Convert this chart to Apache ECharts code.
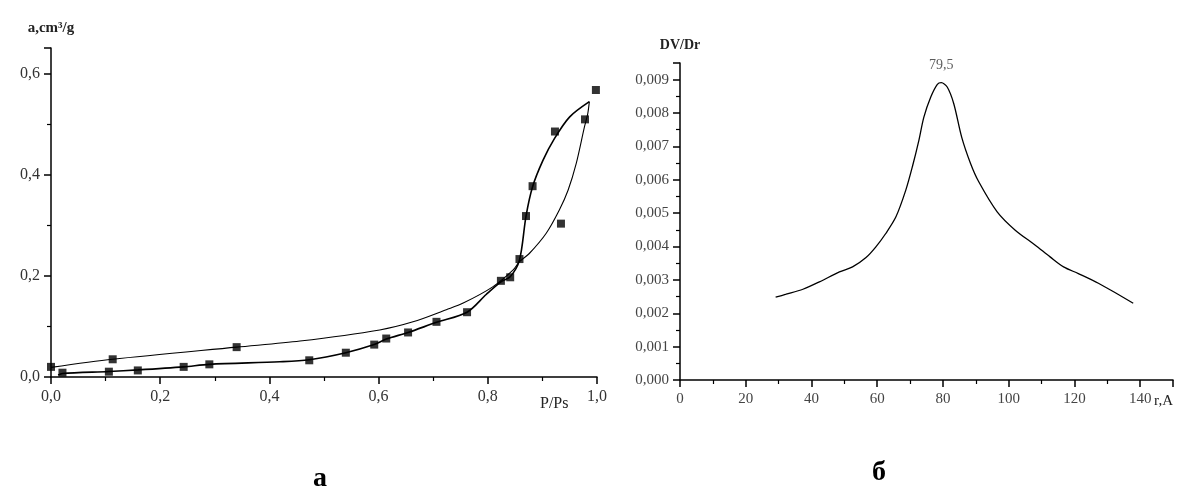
<!DOCTYPE html>
<html>
<head>
<meta charset="utf-8">
<script src="https://cdn.jsdelivr.net/npm/echarts@6/dist/echarts.min.js"></script>
<style>
  html, body { margin: 0; padding: 0; background: #fff; }
  #chart { width: 1184px; height: 488px; }
</style>
</head>
<body>
<div id="chart"></div>
<script>
// (а) изотерма адсорбции-десорбции: экспериментальные точки
const isoPoints = [
    [0, 0.020], [0.021, 0.0085], [0.106, 0.0105], [0.113, 0.035], [0.159, 0.013],
    [0.243, 0.020], [0.290, 0.025], [0.340, 0.059], [0.473, 0.033], [0.540, 0.048],
    [0.592, 0.064], [0.614, 0.076], [0.654, 0.088], [0.706, 0.109], [0.762, 0.128],
    [0.824, 0.190], [0.841, 0.197], [0.858, 0.233], [0.870, 0.318], [0.882, 0.377],
    [0.923, 0.485], [0.934, 0.303], [0.978, 0.509], [0.998, 0.567]
];
// ветвь, проходящая через нижние точки
const branchLower = [
    [0.013, 0.004], [0.021, 0.007], [0.106, 0.011], [0.159, 0.014], [0.243, 0.020],
    [0.290, 0.025], [0.419, 0.030], [0.473, 0.034], [0.540, 0.048], [0.592, 0.064],
    [0.614, 0.075], [0.654, 0.088], [0.706, 0.108], [0.762, 0.128], [0.797, 0.163],
    [0.824, 0.188], [0.841, 0.198], [0.858, 0.231], [0.870, 0.318], [0.882, 0.376],
    [0.901, 0.428], [0.922, 0.471], [0.950, 0.514], [0.986, 0.544]
];
// вторая ветвь петли гистерезиса
const branchUpper = [
    [0, 0.019], [0.113, 0.035], [0.340, 0.059], [0.456, 0.071], [0.602, 0.093],
    [0.663, 0.109], [0.724, 0.133], [0.755, 0.146], [0.809, 0.178], [0.846, 0.211],
    [0.858, 0.228], [0.876, 0.244], [0.907, 0.284], [0.931, 0.330], [0.947, 0.369],
    [0.962, 0.422], [0.977, 0.494], [0.983, 0.520], [0.986, 0.544]
];
// (б) распределение пор по радиусам
const poreR = [29.1, 32.3, 37.4, 42.4, 48.5, 52.5, 56.6, 59.6, 62.6, 65.7, 68.7, 70.7, 72.7, 74.2, 76.3, 78.3,
    79.5, 81.3, 83.3, 85.7, 88.4, 90.9, 96.5, 102, 108.1, 112.6, 116.7, 121.2, 127.3, 137.9];
const poreDV = [0.00248, 0.00257, 0.00272, 0.00294, 0.00324, 0.00339, 0.00367, 0.00399, 0.00439, 0.00489,
    0.00569, 0.00639, 0.00719, 0.00788, 0.00848, 0.00886, 0.00891, 0.00878, 0.00828, 0.00728, 0.00649,
    0.00594, 0.00504, 0.00449, 0.00404, 0.00369, 0.00339, 0.00319, 0.00290, 0.00230];
const peak = [79.5, 0.00891];

const serif = 'Liberation Serif';
const comma = (d) => (v) => v.toFixed(d).replace('.', ',');

const axisBase = {
    axisLine: { lineStyle: { color: '#000', width: 1.5 } },
    axisTick: { inside: false, length: 7, lineStyle: { color: '#000', width: 1.5 } },
    minorTick: { show: true, splitNumber: 2, length: 4, lineStyle: { color: '#000', width: 1.2 } },
    splitLine: { show: false }
};

const chart = echarts.init(document.getElementById('chart'));
chart.setOption({
    backgroundColor: '#fff',
    animation: false,
    grid: [
        { left: 51, right: 587, top: 48, bottom: 111 },
        { left: 680, right: 11, top: 63, bottom: 108 }
    ],
    xAxis: [
        Object.assign({}, axisBase, {
            gridIndex: 0, type: 'value', min: 0, max: 1, interval: 0.2,
            axisLabel: { formatter: comma(1), fontFamily: serif, fontSize: 16, color: '#333', margin: 12 }
        }),
        Object.assign({}, axisBase, {
            gridIndex: 1, type: 'value', min: 0, max: 150, interval: 20,
            axisLabel: { showMaxLabel: false, fontFamily: serif, fontSize: 15, color: '#444', margin: 12 }
        })
    ],
    yAxis: [
        Object.assign({}, axisBase, {
            gridIndex: 0, type: 'value', min: 0, max: 0.65, interval: 0.2,
            name: 'a,cm³/g', nameLocation: 'end', nameGap: 12,
            nameTextStyle: { fontFamily: serif, fontSize: 15, color: '#222', fontWeight: 'bold', align: 'center' },
            axisLabel: { showMaxLabel: false, formatter: comma(1), fontFamily: serif, fontSize: 16, color: '#333', margin: 11 }
        }),
        Object.assign({}, axisBase, {
            gridIndex: 1, type: 'value', min: 0, max: 0.0095, interval: 0.001,
            name: 'DV/Dr', nameLocation: 'end', nameGap: 11,
            nameTextStyle: { fontFamily: serif, fontSize: 14, color: '#222', fontWeight: 'bold', align: 'center' },
            axisLabel: { showMaxLabel: false, formatter: comma(3), fontFamily: serif, fontSize: 15, color: '#444', margin: 11 }
        })
    ],
    series: [
        {
            type: 'line', xAxisIndex: 0, yAxisIndex: 0, data: branchUpper, smooth: 0.3,
            showSymbol: false, lineStyle: { color: '#000', width: 1.1 }
        },
        {
            type: 'line', xAxisIndex: 0, yAxisIndex: 0, data: branchLower, smooth: 0.3,
            showSymbol: false, lineStyle: { color: '#000', width: 1.6 }
        },
        {
            type: 'scatter', xAxisIndex: 0, yAxisIndex: 0, data: isoPoints,
            symbol: 'rect', symbolSize: 8, itemStyle: { color: '#000' }
        },
        {
            type: 'line', xAxisIndex: 1, yAxisIndex: 1, smooth: 0.3,
            data: poreR.map((r, i) => [r, poreDV[i]]),
            showSymbol: false, lineStyle: { color: '#000', width: 1.3 }
        },
        {
            // подпись максимума
            type: 'scatter', xAxisIndex: 1, yAxisIndex: 1, data: [peak],
            symbolSize: 2, itemStyle: { color: 'rgba(0,0,0,0)' },
            label: { show: true, position: 'top', distance: 9, formatter: '79,5', fontFamily: serif, fontSize: 14, color: '#333' }
        }
    ],
    graphic: [
        { type: 'text', left: 540, top: 396, style: { text: 'P/Ps', font: '16px "Liberation Serif"', fill: '#222' } },
        { type: 'text', left: 1154, top: 394, style: { text: 'r,A', font: '15px "Liberation Serif"', fill: '#222' } },
        { type: 'text', left: 313, top: 465, style: { text: 'a', font: 'bold 28px "Liberation Serif"', fill: '#000' } },
        { type: 'text', left: 872, top: 459, style: { text: 'б', font: 'bold 28px "Liberation Serif"', fill: '#000' } }
    ]
});
</script>
</body>
</html>
